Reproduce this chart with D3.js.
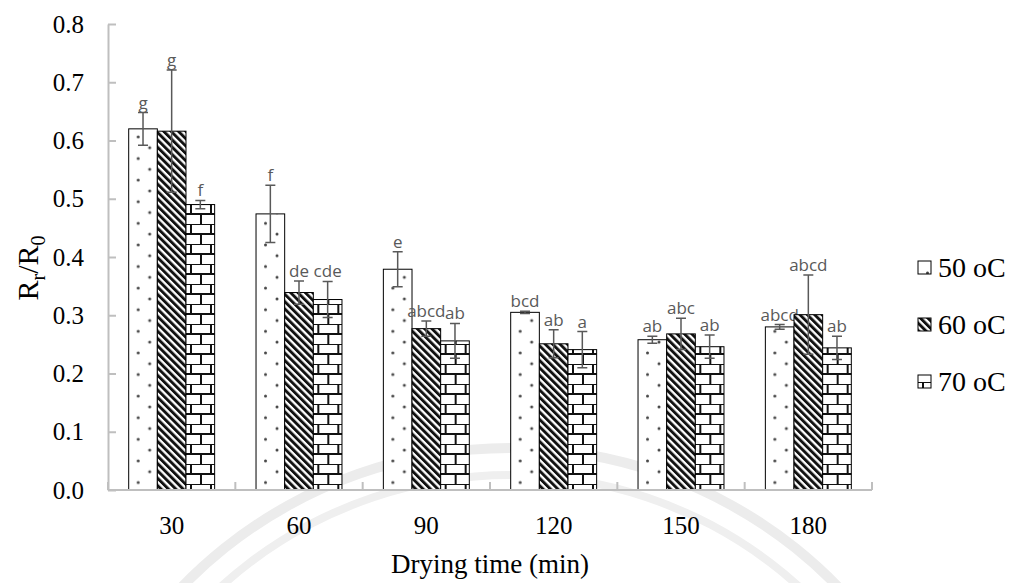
<!DOCTYPE html>
<html>
<head>
<meta charset="utf-8">
<script src="https://cdn.jsdelivr.net/npm/d3@7"></script>
<style>
  body { margin: 0; background: #fff; }
  svg { display: block; }
</style>
</head>
<body>
<div id="chart"></div>
<script>
const categories = ["30", "60", "90", "120", "150", "180"];
const seriesNames = ["50 oC", "60 oC", "70 oC"];

const values50 = [0.620, 0.474, 0.379, 0.305, 0.258, 0.280];
const values60 = [0.616, 0.339, 0.277, 0.251, 0.268, 0.301];
const values70 = [0.490, 0.327, 0.256, 0.241, 0.246, 0.244];

const err50 = [0.028, 0.049, 0.030, 0.002, 0.006, 0.004];
const err60 = [0.105, 0.020, 0.013, 0.024, 0.027, 0.068];
const err70 = [0.007, 0.031, 0.030, 0.031, 0.020, 0.020];

const letters50 = ["g", "f", "e", "bcd", "ab", "abcd"];
const letters60 = ["g", "de", "abcd", "ab", "abc", "abcd"];
const letters70 = ["f", "cde", "ab", "a", "ab", "ab"];

const yTicks = [0, 0.1, 0.2, 0.3, 0.4, 0.5, 0.6, 0.7, 0.8];

const W = 1019, H = 583;
const margin = { top: 24, right: 147, bottom: 93, left: 108 };
const width = W - margin.left - margin.right,
  height = H - margin.top - margin.bottom;

const svg = d3.select("#chart").append("svg")
  .attr("width", W).attr("height", H);

const defs = svg.append("defs");

// dotted fill
const dots = defs.append("pattern").attr("id", "dots")
  .attr("patternUnits", "userSpaceOnUse")
  .attr("width", 23).attr("height", 21.6);
dots.append("rect").attr("width", 23).attr("height", 21.6).attr("fill", "#fff");
dots.append("circle").attr("cx", 9.5).attr("cy", 5).attr("r", 1.5).attr("fill", "#444");
dots.append("circle").attr("cx", 21).attr("cy", 15.8).attr("r", 1.5).attr("fill", "#444");

// diagonal hatch
const hatch = defs.append("pattern").attr("id", "hatch")
  .attr("patternUnits", "userSpaceOnUse")
  .attr("width", 5.2).attr("height", 10)
  .attr("patternTransform", "rotate(-45)");
hatch.append("rect").attr("width", 5.2).attr("height", 10).attr("fill", "#fff");
hatch.append("rect").attr("width", 2.9).attr("height", 10).attr("fill", "#111");

// brick fill
const brick = defs.append("pattern").attr("id", "brick")
  .attr("patternUnits", "userSpaceOnUse")
  .attr("width", 20).attr("height", 20);
brick.append("rect").attr("width", 20).attr("height", 20).attr("fill", "#fff");
brick.append("path")
  .attr("d", "M0,0H20M0,10H20M5,0V10M15,10V20")
  .attr("stroke", "#111").attr("stroke-width", 2).attr("fill", "none");

const fills = ["url(#dots)", "url(#hatch)", "url(#brick)"];

// faint watermark arcs
const wm = svg.append("g");
wm.append("path").attr("d", d3.arc()({ innerRadius: 452, outerRadius: 462, startAngle: -1.35, endAngle: 1.35 }))
  .attr("transform", "translate(510,905)").attr("fill", "#ececec");
wm.append("path").attr("d", d3.arc()({ innerRadius: 426, outerRadius: 434, startAngle: -1.3, endAngle: 1.3 }))
  .attr("transform", "translate(510,905)").attr("fill", "#efefef");

const g = svg.append("g").attr("transform", `translate(${margin.left},${margin.top})`);

const x0 = d3.scaleBand().domain(categories).range([0, width])
  .paddingInner(0.325).paddingOuter(0.1625);
const x1 = d3.scaleBand().domain(seriesNames).range([0, x0.bandwidth()]);
const y = d3.scaleLinear().domain([0, 0.8]).range([height, 0]);

const allValues = [values50, values60, values70];
const allErr = [err50, err60, err70];
const allLetters = [letters50, letters60, letters70];

const bars = [];
categories.forEach((c, i) => {
  seriesNames.forEach((s, j) => {
    bars.push({ cat: c, s, j, v: allValues[j][i], e: allErr[j][i], lab: allLetters[j][i] });
  });
});

// bars
const barG = g.selectAll("g.bar").data(bars).join("g")
  .attr("class", "bar")
  .attr("transform", (d) => `translate(${x0(d.cat) + x1(d.s)},0)`);

barG.append("rect")
  .attr("x", 0)
  .attr("y", (d) => y(d.v))
  .attr("width", x1.bandwidth())
  .attr("height", (d) => height - y(d.v))
  .attr("fill", (d) => fills[d.j])
  .attr("stroke", "#000")
  .attr("stroke-width", 1);

// error bars
const bw = x1.bandwidth();
barG.append("path")
  .attr("d", (d) => {
    const cx = bw / 2, t = y(d.v + d.e), b = y(d.v - d.e);
    return `M${cx},${t}V${b}M${cx - 5},${t}H${cx + 5}M${cx - 5},${b}H${cx + 5}`;
  })
  .attr("stroke", "#595959").attr("stroke-width", 1.5).attr("fill", "none");

// letters
barG.append("text")
  .attr("x", bw / 2)
  .attr("y", (d) => y(d.v + d.e) - 4)
  .attr("text-anchor", "middle")
  .attr("font-family", "'Open Sans', sans-serif")
  .attr("font-size", 17)
  .attr("fill", "#595959")
  .text((d) => d.lab);

// axes
const serif = "'Liberation Serif', 'Times New Roman', serif";
const axisColor = "#bfbfbf";
const yAxis = g.append("g")
  .call(d3.axisLeft(y).tickValues(yTicks).tickFormat(d3.format(".1f"))
    .tickSizeInner(-8).tickSizeOuter(0).tickPadding(24));
yAxis.select(".domain").attr("stroke", axisColor).attr("stroke-width", 2);
yAxis.selectAll(".tick line").attr("stroke", axisColor).attr("stroke-width", 2);
yAxis.selectAll(".tick text")
  .attr("font-family", serif)
  .attr("font-size", 25).attr("fill", "#000");

const xAxis = g.append("g").attr("transform", `translate(0,${height})`)
  .call(d3.axisBottom(x0).tickSize(0).tickPadding(26));
xAxis.select(".domain").remove();
xAxis.selectAll(".tick text")
  .attr("font-family", serif)
  .attr("font-size", 25).attr("fill", "#000");

g.append("line")
  .attr("x1", 0).attr("x2", width).attr("y1", height).attr("y2", height)
  .attr("stroke", axisColor).attr("stroke-width", 2);

const step = x0.step();
const bounds = categories.map((c) => x0(c) - (step - x0.bandwidth()) / 2).concat([width]);
g.selectAll("line.xtick").data(bounds).join("line")
  .attr("class", "xtick")
  .attr("x1", (d) => d).attr("x2", (d) => d)
  .attr("y1", height).attr("y2", height - 8)
  .attr("stroke", axisColor).attr("stroke-width", 2);

// axis titles
g.append("text")
  .attr("x", width / 2).attr("y", height + 83)
  .attr("text-anchor", "middle")
  .attr("font-family", serif).attr("font-size", 27)
  .text("Drying time (min)");

const yt = svg.append("text")
  .attr("transform", "translate(38,268) rotate(-90)")
  .attr("text-anchor", "middle")
  .attr("font-family", serif).attr("font-size", 30);
yt.append("tspan").text("R");
yt.append("tspan").attr("font-size", 20).attr("dy", 7).text("r");
yt.append("tspan").attr("dy", -7).text("/R");
yt.append("tspan").attr("font-size", 20).attr("dy", 7).text("0");

// legend
const legend = svg.append("g").attr("transform", "translate(918,268)");
const li = legend.selectAll("g").data(seriesNames).join("g")
  .attr("transform", (d, i) => `translate(0,${i * 57})`);
li.append("rect")
  .attr("x", 0).attr("y", -7).attr("width", 13).attr("height", 13)
  .attr("fill", (d, i) => fills[i])
  .attr("stroke", "#000").attr("stroke-width", 1);
li.append("text")
  .attr("x", 20).attr("y", 9)
  .attr("font-family", serif).attr("font-size", 28)
  .text((d) => d);
</script>
</body>
</html>
